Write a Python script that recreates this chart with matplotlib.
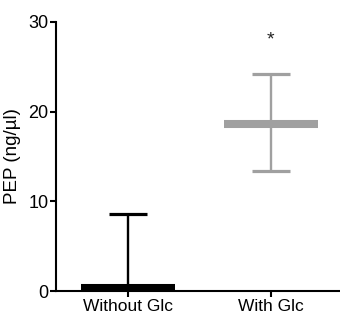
import numpy as np
import matplotlib.pyplot as plt

# 그룹과 값
groups = ["Without Glc", "With Glc"]
means = [0.4, 18.6]
err_low = [0.0, 13.4]
err_high = [8.6, 24.2]
colors = ["#000000", "#a0a0a0"]
yticks = [0, 10, 20, 30]

plt.rcParams['font.family'] = ['Liberation Sans', 'DejaVu Sans']

fig = plt.figure(figsize=(3.4, 3.26), dpi=100)
ax = fig.add_axes([0.165, 0.107, 0.835, 0.826])

x = np.arange(len(groups))
for i in range(len(groups)):
    # 평균 막대
    ax.hlines(means[i], x[i] - 0.33, x[i] + 0.33, color=colors[i], linewidth=5.8, zorder=3)
    # 오차 막대
    lo = means[i] - err_low[i] if err_low[i] > 0 else 0
    yerr = [[lo], [err_high[i] - means[i]]]
    ax.errorbar(x[i], means[i], yerr=yerr, fmt='none', ecolor=colors[i],
                elinewidth=1.7, capsize=13.5, capthick=2.3, zorder=2)

# 별표
ax.text(x[1], 28.0, "*", ha='center', va='center', fontsize=14, color="#222222")

ax.set_xlim(-0.503, 1.483)
ax.set_ylim(0, 30)
ax.set_xticks(x)
ax.set_xticklabels(groups, fontsize=12.5)
ax.set_yticks(yticks)
ax.set_yticklabels([str(t) for t in yticks], fontsize=13)
ax.set_ylabel("PEP (ng/\u00b5l)", fontsize=13.5, labelpad=5)

for s in ['top', 'right']:
    ax.spines[s].set_visible(False)
for s in ['left', 'bottom']:
    ax.spines[s].set_linewidth(1.5)
ax.tick_params(width=1.5, length=4, pad=1.5)

fig.savefig("out.png", dpi=100)
